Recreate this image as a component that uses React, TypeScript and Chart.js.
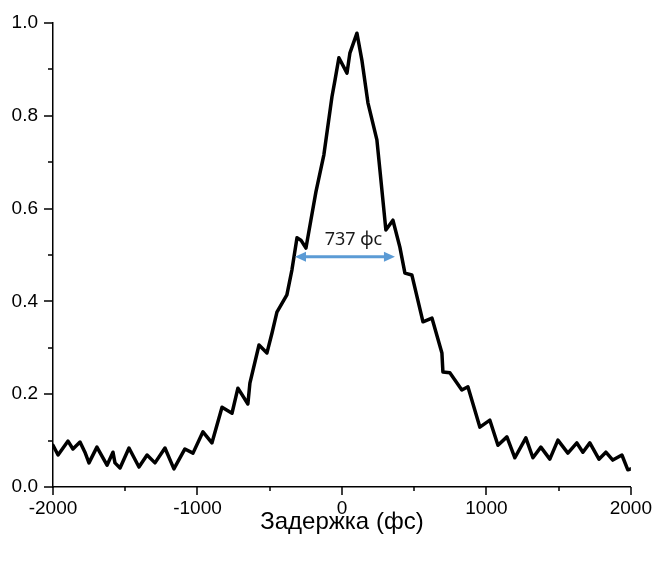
import React, { useEffect, useRef } from 'react';
import { Chart, registerables } from 'chart.js';

Chart.register(...registerables);

// Delay (fs)
const delays = [
  -2000, -1965, -1896, -1862, -1813, -1779, -1751, -1696, -1626, -1585, -1571, -1536,
  -1474, -1405, -1349, -1294, -1225, -1163, -1087, -1031, -962, -900, -830, -761,
  -720, -651, -637, -574, -519, -484, -450, -381, -346, -311, -284, -249, -215, -180,
  -125, -69, -48, -21, 35, 55, 104, 138, 180, 242, 263, 304, 353, 401, 436, 484,
  561, 623, 692, 699, 747, 830, 872, 955, 1024, 1080, 1142, 1197, 1273, 1322, 1377,
  1439, 1495, 1564, 1626, 1668, 1716, 1779, 1827, 1875, 1938, 1979, 2000,
];

// Normalised signal
const signal = [
  0.090, 0.069, 0.099, 0.082, 0.097, 0.075, 0.052, 0.086, 0.047, 0.075, 0.052, 0.041,
  0.084, 0.043, 0.069, 0.052, 0.084, 0.039, 0.082, 0.073, 0.119, 0.095, 0.172, 0.159,
  0.213, 0.179, 0.224, 0.306, 0.289, 0.332, 0.377, 0.414, 0.468, 0.537, 0.532, 0.515, 0.575, 0.636,
  0.716, 0.841, 0.877, 0.925, 0.892, 0.935, 0.978, 0.920, 0.828, 0.748, 0.683, 0.554, 0.575, 0.517, 0.461, 0.457,
  0.356, 0.364, 0.289, 0.248, 0.246, 0.209, 0.216, 0.129, 0.144, 0.090, 0.108, 0.063, 0.106, 0.063, 0.086,
  0.060, 0.101, 0.073, 0.095, 0.075, 0.095, 0.060, 0.075, 0.058, 0.069, 0.037, 0.039,
];

const xMajorTicks = [-2000, -1000, 0, 1000, 2000];
const xMinorTicks = [-1500, -500, 500, 1500];
const yMajorTicks = [0, 0.2, 0.4, 0.6, 0.8, 1.0];
const yMinorTicks = [0.1, 0.3, 0.5, 0.7, 0.9];

const fwhmStart = -325;
const fwhmEnd = 367;
const fwhmLevel = 0.496;
const fwhmLabel = '737 фс';
const fwhmLabelX = 80;
const fwhmLabelY = 0.533;

const xTitle = 'Задержка (фс)';

const tickPlugin = {
  id: 'customTicks',
  afterDraw(chart: any) {
    const { ctx, scales } = chart;
    const xs = scales.x;
    const ys = scales.y;
    const area = chart.chartArea;
    ctx.save();
    ctx.strokeStyle = '#000';
    ctx.lineWidth = 1.5;
    ctx.beginPath();
    const drawX = (v: number, len: number) => {
      const px = Math.round(xs.getPixelForValue(v));
      ctx.moveTo(px, area.bottom);
      ctx.lineTo(px, area.bottom + len);
    };
    const drawY = (v: number, len: number) => {
      const py = Math.round(ys.getPixelForValue(v));
      ctx.moveTo(area.left, py);
      ctx.lineTo(area.left - len, py);
    };
    xMajorTicks.forEach((v) => drawX(v, 8));
    xMinorTicks.forEach((v) => drawX(v, 4));
    yMajorTicks.forEach((v) => drawY(v, 9));
    yMinorTicks.forEach((v) => drawY(v, 5));
    ctx.stroke();
    ctx.restore();
  },
};

const arrowPlugin = {
  id: 'fwhmArrow',
  afterDatasetsDraw(chart: any) {
    const { ctx, scales } = chart;
    const xs = scales.x;
    const ys = scales.y;
    const x1 = xs.getPixelForValue(fwhmStart);
    const x2 = xs.getPixelForValue(fwhmEnd);
    const y = ys.getPixelForValue(fwhmLevel);
    const headL = 11;
    const headH = 5;
    ctx.save();
    ctx.strokeStyle = '#5B9BD5';
    ctx.fillStyle = '#5B9BD5';
    ctx.lineWidth = 3;
    ctx.beginPath();
    ctx.moveTo(x1 + headL - 1, y);
    ctx.lineTo(x2 - headL + 1, y);
    ctx.stroke();
    ctx.beginPath();
    ctx.moveTo(x1, y);
    ctx.lineTo(x1 + headL, y - headH);
    ctx.lineTo(x1 + headL, y + headH);
    ctx.closePath();
    ctx.fill();
    ctx.beginPath();
    ctx.moveTo(x2, y);
    ctx.lineTo(x2 - headL, y - headH);
    ctx.lineTo(x2 - headL, y + headH);
    ctx.closePath();
    ctx.fill();
    ctx.fillStyle = '#1a1a1a';
    ctx.font = '18px "Noto Sans", "Open Sans", sans-serif';
    ctx.textAlign = 'center';
    ctx.textBaseline = 'middle';
    ctx.fillText(fwhmLabel, xs.getPixelForValue(fwhmLabelX), ys.getPixelForValue(fwhmLabelY));
    ctx.restore();
  },
};

export default function App() {
  const canvasRef = useRef<HTMLCanvasElement | null>(null);

  useEffect(() => {
    document.body.style.margin = '0';
    const canvas = canvasRef.current;
    if (!canvas) return;
    const points = delays.map((d, i) => ({ x: d, y: signal[i] }));
    const tickFont = { family: '"Liberation Sans", Arial, sans-serif', size: 19 };
    const chart = new Chart(canvas, {
      type: 'line',
      data: {
        datasets: [
          {
            data: points,
            borderColor: '#000',
            borderWidth: 3.5,
            pointRadius: 0,
            tension: 0,
            fill: false,
            borderJoinStyle: 'round',
            borderCapStyle: 'round',
          },
        ],
      },
      options: {
        animation: false,
        responsive: false,
        devicePixelRatio: 1,
        layout: { padding: { top: 23, right: 23, left: 0, bottom: 0 } },
        plugins: { legend: { display: false }, tooltip: { enabled: false } },
        scales: {
          x: {
            type: 'linear',
            min: -2000,
            max: 2000,
            grid: { display: false },
            border: { display: true, color: '#000', width: 1.5 },
            ticks: {
              stepSize: 1000,
              autoSkip: false,
              maxRotation: 0,
              color: '#000',
              font: tickFont,
              padding: 2,
              callback: (v: any) => String(v),
            },
            title: {
              display: true,
              text: xTitle,
              color: '#000',
              font: { family: '"Liberation Sans", Arial, sans-serif', size: 24 },
              padding: { top: 0, bottom: 24 },
            },
            afterFit: (s: any) => {
              s.height = 74;
            },
          },
          y: {
            type: 'linear',
            min: 0,
            max: 1,
            grid: { display: false },
            border: { display: true, color: '#000', width: 1.5 },
            ticks: {
              stepSize: 0.2,
              autoSkip: false,
              color: '#000',
              font: tickFont,
              padding: 7,
              callback: (v: any) => Number(v).toFixed(1),
            },
            afterFit: (s: any) => {
              s.width = 53;
            },
          },
        },
      },
      plugins: [tickPlugin, arrowPlugin],
    });
    return () => chart.destroy();
  }, []);

  return (
    <div style={{ position: 'absolute', left: 0, top: 0, width: 654, height: 561, background: '#fff' }}>
      <canvas ref={canvasRef} width={654} height={561} style={{ display: 'block' }} />
    </div>
  );
}
